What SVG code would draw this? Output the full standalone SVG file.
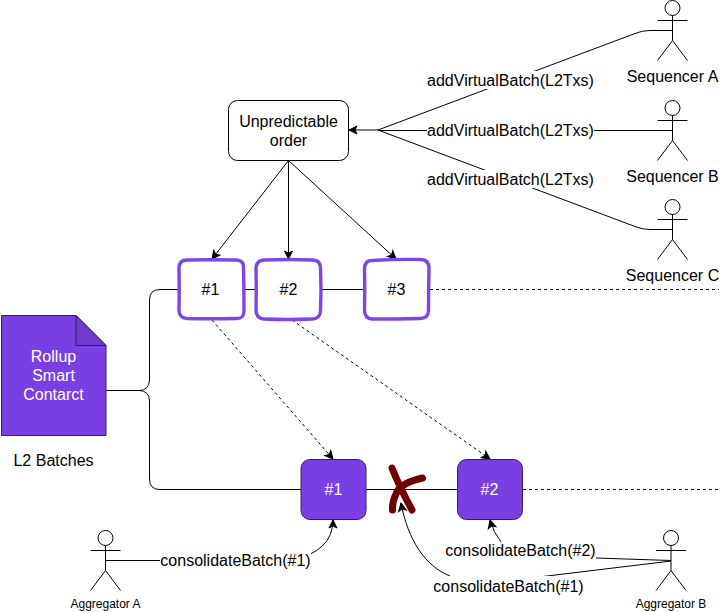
<svg xmlns="http://www.w3.org/2000/svg" width="722" height="612" viewBox="0 0 722 612">
<style>
text{font-family:"Liberation Sans",Arial,sans-serif;font-size:16px;fill:#000;text-anchor:middle}
.w{fill:#fff}
.s{font-size:12px}
.ln{fill:none;stroke:#000;stroke-width:1}
.d{stroke-dasharray:3 3}
.sk{fill:#fff;stroke:#7f46e6;stroke-width:3.4;stroke-linejoin:round}
.p{fill:#7a3fe2;stroke:#33205f;stroke-width:1}
.actor{fill:none;stroke:#000;stroke-width:1}
.bg{fill:#fff;stroke:none}
</style>
<defs>
<marker id="a" markerUnits="userSpaceOnUse" markerWidth="12" markerHeight="12" refX="9" refY="5" orient="auto" overflow="visible"><path d="M1 1 L9 5 L1 9 L3 5 Z" fill="#000" stroke="#000" stroke-width="1"/></marker>
<g id="fig"><circle cx="0" cy="8" r="7.5"/><path d="M0 15.5V40.5M-15 20.5H15M0 40.5L-15 60.5M0 40.5L15 60.5"/></g>
</defs>
<g id="connectors">
<path class="ln" d="M106 390.5H139Q149 390.5 149.5 380V300Q149.5 289.5 160 289.5H179M149.5 401V479Q149.5 489.5 160 489.5H301"/>
<path class="ln" d="M139 390.5Q149 390.5 149.5 401"/>
<path class="ln" d="M244 289.5H256M321 289.5H364M366 489.5H457.5"/>
<path class="ln d" d="M430 289.5H719M523 489.5H719"/>
<path class="ln" marker-end="url(#a)" d="M288.5 160.5L212 259"/>
<path class="ln" marker-end="url(#a)" d="M288.5 160.5V259"/>
<path class="ln" marker-end="url(#a)" d="M288.5 160.5L396 259"/>
<path class="ln d" marker-end="url(#a)" d="M212 320L333 459"/>
<path class="ln d" marker-end="url(#a)" d="M292 320L490 459"/>
<path class="ln" marker-end="url(#a)" d="M672.5 30.5H650Q642 30.5 635 33.5L378 130H349"/>
<path class="ln" d="M672.5 130.5H378"/>
<path class="ln" d="M672.5 229.5H650Q642 229.5 635 226.5L378 130"/>
<path class="ln" marker-end="url(#a)" d="M105.5 560.5H290Q333 552 333 520"/>
<path class="ln" marker-end="url(#a)" d="M671 560.5L596 558H520Q497 545 490 520"/>
<path class="ln" d="M671 561L543 576.500"/>
<path class="ln" marker-end="url(#a)" d="M450 576C425 566 408 540 401 503"/>
<rect class="bg" x="427" y="71" width="167" height="18"/>
<rect class="bg" x="427" y="121" width="167" height="18"/>
<rect class="bg" x="427" y="170" width="167" height="18"/>
<rect class="bg" x="160" y="552" width="151" height="18"/>
<rect class="bg" x="445" y="542" width="151" height="18"/>
<rect class="bg" x="433" y="576" width="151" height="19"/>
<text x="510.500" y="86">addVirtualBatch(L2Txs)</text>
<text x="510.500" y="136">addVirtualBatch(L2Txs)</text>
<text x="510.500" y="185">addVirtualBatch(L2Txs)</text>
<text x="235.500" y="566">consolidateBatch(#1)</text>
<text x="520.500" y="556">consolidateBatch(#2)</text>
<text x="508.500" y="592">consolidateBatch(#1)</text>
</g>
<g id="unpredictable"><rect x="228.500" y="100.500" width="120" height="60" rx="9" fill="#fff" stroke="#000"/><text x="288.500" y="127">Unpredictable</text><text x="288.500" y="146">order</text></g>
<g id="seqA"><use href="#fig" x="672.500" y="0" class="actor"/><text x="672.500" y="82">Sequencer A</text></g>
<g id="seqB"><use href="#fig" x="672.500" y="100" class="actor"/><text x="672.500" y="182">Sequencer B</text></g>
<g id="seqC"><use href="#fig" x="672.500" y="199" class="actor"/><text x="672.500" y="281">Sequencer C</text></g>
<g id="aggA"><use href="#fig" x="105.500" y="530" class="actor"/><text class="s" x="105.500" y="608">Aggregator A</text></g>
<g id="aggB"><use href="#fig" x="671" y="530" class="actor"/><text class="s" x="671" y="608">Aggregator B</text></g>
<g id="doc"><path class="p" d="M1.500 315.500H76L106 345.500V435.500H1.500Z"/><path d="M76 315.500V345.500H106Z" fill="#6f3bcc" stroke="#33205f"/>
<text class="w" x="53.500" y="362">Rollup</text><text class="w" x="53.500" y="381">Smart</text><text class="w" x="53.500" y="400">Contarct</text></g>
<g id="l2"><text x="53.500" y="466">L2 Batches</text></g>
<g id="b1"><path class="sk" d="M187 260Q211 259.500 236 260Q244 260 243.500 268Q244 290 244 311Q244 319 236 318.500Q211 319 187 318.500Q179 318 179 310Q179.500 290 179 268Q179 260 187 260Z"/><text x="210.500" y="295">#1</text></g>
<g id="b2"><path class="sk" d="M264 260Q290 259 313 260Q320.500 260.500 320.500 268Q321.500 290 320.500 311Q320 319 312 319Q288 320 264 319Q256 318.500 256 310Q256.500 290 256 268Q256.500 260.500 264 260Z"/><text x="288.500" y="295">#2</text></g>
<g id="b3"><path class="sk" d="M372 260.500Q396 259 421 259.500Q429 260 429 268Q428.500 290 428.500 311Q428 318.500 420 318.500Q396 319 372 319Q364.500 318.500 364.500 310Q365 290 364.500 268Q365 260.500 372 260.500Z"/><text x="396.500" y="295">#3</text></g>
<g id="f1"><rect class="p" x="301" y="459.500" width="65" height="60" rx="9"/><text class="w" x="333.500" y="495">#1</text></g>
<g id="f2"><rect class="p" x="457.500" y="459.500" width="65" height="60" rx="9"/><text class="w" x="489.500" y="495">#2</text></g>
<g id="cross"><path d="M392 468Q400 488 412 510M422.500 478Q400 483 396 494Q392 502 392.500 510" fill="none" stroke="#6f0000" stroke-width="7" stroke-linecap="round"/></g>
</svg>
